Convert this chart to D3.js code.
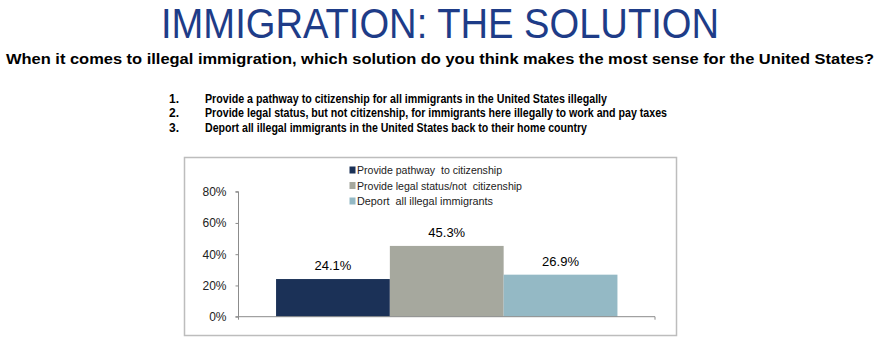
<!DOCTYPE html>
<html>
<head>
<meta charset="utf-8">
<script src="https://cdn.jsdelivr.net/npm/d3@7"></script>
<style>
  html, body { margin: 0; padding: 0; background: #fff; }
  svg { display: block; }
  .pre { white-space: pre; }
</style>
</head>
<body>
<svg id="chart" width="880" height="340"></svg>
<script>
// Survey answers and their shares
const categories = ["Provide pathway  to citizenship", "Provide legal status/not  citizenship", "Deport  all illegal immigrants"];
const values = [24.1, 45.3, 26.9];
const valueLabels = ["24.1%", "45.3%", "26.9%"];
const tickValues = [0, 20, 40, 60, 80];
const tickLabels = ["0%", "20%", "40%", "60%", "80%"];
const colors = ["#1b3157", "#a6a89e", "#94b9c5"];
const answerNumbers = ["1.", "2.", "3."];
const answerTexts = [
  "Provide a pathway  to citizenship for all immigrants in the United  States illegally",
  "Provide legal status, but  not citizenship, for immigrants here illegally to work and pay taxes",
  "Deport  all illegal immigrants in the United States back to their home country"
];

const svg = d3.select("#chart");
const sans = "'Liberation Sans', Arial, sans-serif";

// Heading
svg.append("text")
  .attr("x", 440).attr("y", 38)
  .attr("text-anchor", "middle")
  .attr("font-family", "'Liberation Sans Narrow', 'Arial Narrow', " + sans)
  .attr("font-size", 42)
  .attr("fill", "#1e3c88")
  .attr("textLength", 558)
  .attr("lengthAdjust", "spacingAndGlyphs")
  .text("IMMIGRATION: THE SOLUTION");

// Question
svg.append("text")
  .attr("x", 440).attr("y", 64)
  .attr("text-anchor", "middle")
  .attr("font-family", sans)
  .attr("font-weight", "bold")
  .attr("font-size", 15)
  .attr("fill", "#000")
  .attr("textLength", 868)
  .attr("lengthAdjust", "spacingAndGlyphs")
  .text("When it comes to illegal immigration, which solution  do you think makes the most sense for the United States?");

// Answer options
const optWidths = [402, 462, 382];
const opts = svg.append("g")
  .attr("font-family", sans)
  .attr("font-weight", "bold")
  .attr("font-size", 12)
  .attr("fill", "#000");
answerTexts.forEach((t, i) => {
  const y = 103 + i * 14.3;
  opts.append("text").attr("x", 169).attr("y", y).text(answerNumbers[i]);
  opts.append("text").attr("x", 205).attr("y", y)
    .attr("textLength", optWidths[i])
    .attr("lengthAdjust", "spacingAndGlyphs")
    .text(t);
});

// Chart frame
svg.append("rect")
  .attr("x", 184.5).attr("y", 157.5)
  .attr("width", 492).attr("height", 178)
  .attr("fill", "#fff")
  .attr("stroke", "#bdbdbd")
  .attr("stroke-width", 1.5);

const plot = { left: 238.5, right: 655, top: 191.7, bottom: 316.7 };

const y = d3.scaleLinear().domain([0, 80]).range([plot.bottom, plot.top]);
const xGroup = d3.scaleBand().domain(["all"]).range([plot.left, plot.right]).paddingInner(0).paddingOuter(0.11);
const x = d3.scaleBand().domain(categories).range([xGroup("all"), xGroup("all") + xGroup.bandwidth()]).padding(0);

// Bars
svg.append("g").selectAll("rect")
  .data(values)
  .join("rect")
  .attr("x", (d, i) => x(categories[i]))
  .attr("y", d => y(d))
  .attr("width", x.bandwidth())
  .attr("height", d => y(0) - y(d))
  .attr("fill", (d, i) => colors[i]);

// Value labels
svg.append("g").selectAll("text")
  .data(values)
  .join("text")
  .attr("x", (d, i) => x(categories[i]) + x.bandwidth() / 2)
  .attr("y", d => y(d) - 9)
  .attr("text-anchor", "middle")
  .attr("font-family", sans)
  .attr("font-size", 13)
  .attr("fill", "#000")
  .text((d, i) => valueLabels[i]);

// Y axis
const yAxis = svg.append("g")
  .attr("transform", `translate(${plot.left},0)`)
  .call(d3.axisLeft(y).tickValues(tickValues).tickFormat((d, i) => tickLabels[i]).tickSize(3).tickPadding(9));
yAxis.select(".domain").attr("stroke", "#8c8c8c").attr("d", `M-3,${y(80)}H0V${y(0)}`);
yAxis.selectAll(".tick line").attr("stroke", "#8c8c8c");
yAxis.selectAll(".tick text").attr("font-family", sans).attr("font-size", 12).attr("fill", "#222");

// X axis baseline with end ticks
const xAxisG = svg.append("g").attr("stroke", "#8c8c8c").attr("fill", "none");
xAxisG.append("path").attr("d", `M${plot.left - 3},${y(0)}H${plot.right}V${y(0) + 3}`);
xAxisG.append("path").attr("d", `M${plot.left},${y(0)}V${y(0) + 3}`);

// Legend
const legendWidths = [145, 165, 136];
const legend = svg.append("g")
  .attr("font-family", sans)
  .attr("font-size", 11.5)
  .attr("fill", "#222");
categories.forEach((c, i) => {
  const ly = 170 + i * 15.5;
  legend.append("rect").attr("x", 349.5).attr("y", ly - 3.5).attr("width", 6).attr("height", 7).attr("fill", colors[i]);
  legend.append("text").attr("class", "pre").attr("x", 357).attr("y", ly + 4)
    .attr("textLength", legendWidths[i])
    .attr("lengthAdjust", "spacingAndGlyphs")
    .text(c);
});
</script>
</body>
</html>
